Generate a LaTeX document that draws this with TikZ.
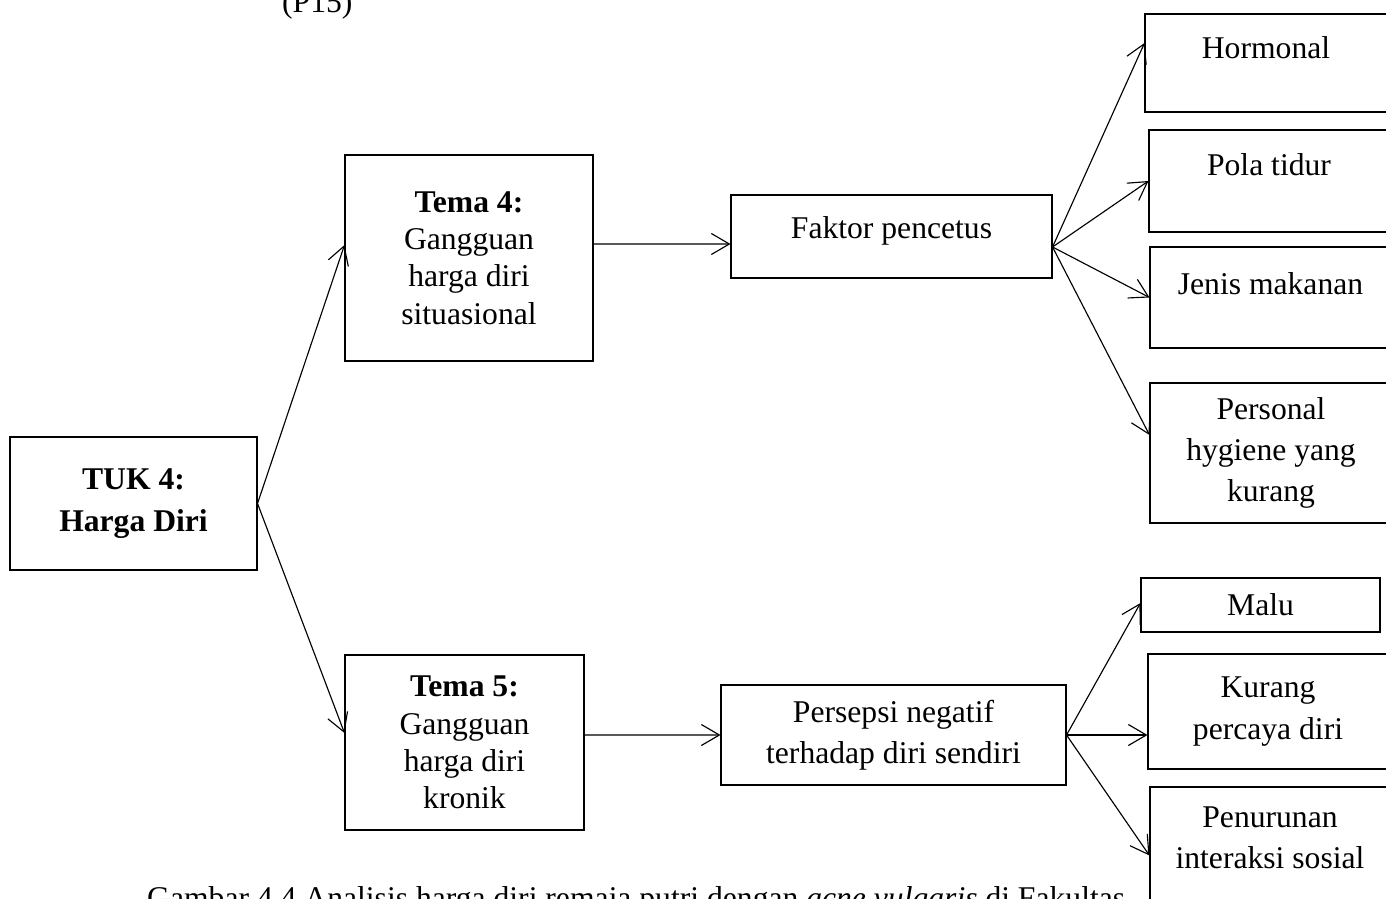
\documentclass[tikz,border=0pt]{standalone}
\usepackage{fontspec}
\setmainfont{Liberation Serif}
\usetikzlibrary{arrows.meta}
\tikzset{
  box/.style={draw, rectangle, align=center, inner sep=2pt, line width=0.6pt,
    font=\fontsize{18}{23.5}\selectfont},
  tema/.style={box, font=\fontsize{18}{21.2}\selectfont},
  link/.style={->, line width=0.65pt}
}
\begin{document}
\begin{tikzpicture}[>={Straight Barb[length=3.6mm,width=4.2mm]}]
\useasboundingbox (0,0) rectangle (27.72,-17.96);
\clip (0,0) rectangle (27.72,-17.96);

\node[anchor=base west, font=\fontsize{18}{21}\selectfont] (kode) at (5.52,-0.26) {(P15)};

\node[box, minimum width=4.94cm, minimum height=2.66cm] (tuk) at (2.67,-10.07) {\textbf{TUK 4:}\\\textbf{Harga Diri}};
\node[tema, minimum width=4.96cm, minimum height=4.12cm] (tema4) at (9.38,-5.16) {\textbf{Tema 4:}\\Gangguan\\harga diri\\situasional};
\node[tema, minimum width=4.78cm, minimum height=3.5cm] (tema5) at (9.29,-14.85) {\textbf{Tema 5:}\\Gangguan\\harga diri\\kronik};

\node[box, minimum width=6.42cm, minimum height=1.66cm, text depth=0.34cm] (faktor) at (17.83,-4.73) {Faktor pencetus};
\node[box, minimum width=6.9cm, minimum height=2cm] (persepsi) at (17.87,-14.7) {Persepsi negatif\\terhadap diri sendiri};

\node[box, minimum width=4.84cm, minimum height=1.96cm, text depth=0.6cm] (hormonal) at (25.32,-1.26) {Hormonal};
\node[box, minimum width=4.8cm, minimum height=2.04cm, text depth=0.64cm] (pola) at (25.38,-3.62) {Pola tidur};
\node[box, minimum width=4.82cm, minimum height=2.02cm, text depth=0.54cm] (jenis) at (25.41,-5.95) {Jenis makanan};
\node[box, minimum width=4.84cm, minimum height=2.8cm] (personal) at (25.42,-9.06) {Personal\\hygiene yang\\kurang};

\node[box, minimum width=4.78cm, minimum height=1.08cm] (malu) at (25.21,-12.1) {Malu};
\node[box, minimum width=4.8cm, minimum height=2.3cm] (kurang) at (25.36,-14.23) {Kurang\\percaya diri};
\node[box, minimum width=4.8cm, minimum height=3.1cm] (penurunan) at (25.4,-17.29) {Penurunan\\interaksi sosial\\\strut};

\node[anchor=base west, font=\fontsize{18}{21}\selectfont] (caption) at (2.82,-18.16) {Gambar 4.4 Analisis harga diri remaja putri dengan \textit{acne vulgaris} di Fakultas};

\coordinate (fk) at ([yshift=-0.21cm]faktor.east);

\draw[link] (tuk.east) -- ([yshift=0.26cm]tema4.west);
\draw[link] (tuk.east) -- ([yshift=0.19cm]tema5.west);
\draw[link] ([yshift=0.28cm]tema4.east) -- ([yshift=-0.15cm]faktor.west);
\draw[link] ([yshift=0.15cm]tema5.east) -- (persepsi.west);

\draw[link] (fk) -- ([yshift=0.4cm]hormonal.west);
\draw[link] (fk) -- (pola.west);
\draw[link] (fk) -- (jenis.west);
\draw[link] (fk) -- ([yshift=0.36cm]personal.west);

\draw[link] (persepsi.east) -- ([yshift=0.04cm]malu.west);
\draw[link] (persepsi.east) -- ([yshift=-0.47cm]kurang.west);
\draw[link] (persepsi.east) -- ([yshift=0.18cm]penurunan.west);
\end{tikzpicture}
\end{document}
